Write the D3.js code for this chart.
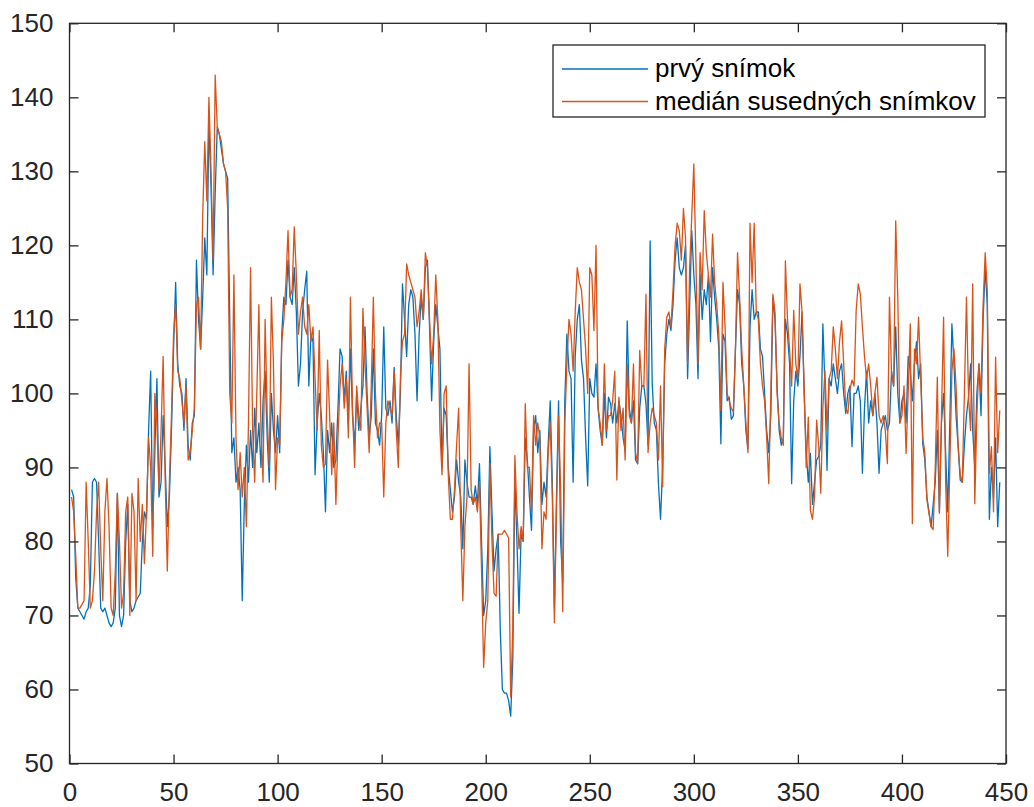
<!DOCTYPE html>
<html>
<head>
<meta charset="utf-8">
<script src="https://cdn.jsdelivr.net/npm/d3@7"></script>
<style>
body { margin:0; background:#ffffff; }
svg { display:block; }
.axis text { font-family:"Liberation Sans", Arial, Helvetica, sans-serif; font-size:26px; fill:#262626; }
.axis line { stroke:#262626; stroke-width:1.3; }
.legend text { font-family:"Liberation Sans", Arial, Helvetica, sans-serif; font-size:26px; fill:#000000; }
</style>
</head>
<body>
<svg id="chart"></svg>
<script>
// hodnoty odcitane z grafu, index snimku 1..447
var xTicks = [0,50,100,150,200,250,300,350,400,450];
var yTicks = [50,60,70,80,90,100,110,120,130,140,150];
var seriesNames = ["prvý snímok","medián susedných snímkov"];

var firstFrame = [
87,86,75,71,70.5,70,69.5,70.5,71,74,
88,88.5,88,80,71,70.5,71,70,69,68.5,
69,71,86.5,70,68.5,70,80,85,72,70.5,
71,72,72.5,73,80,84,83,95,103,82,
92,102,86,88,97,90,82,86,95,106,
115,104,101,100,95,102,93,91,96,97,
118,110,106,113,121,116,137,128,116,127,
136,135,133,131,130,129,110,92,94,88,
90,87,72,85,93,88,95,90,98,92,
96,90,99,103,94,88,100,95,92,97,
92,108,113,112,118,113,112,117,111,101,
104,111,114,116.5,101,108,107,89,96,100,
97,92,84,95,92,96,90,91,98,106,
105,99,103,96,106,97,93,100,95,98,
101,109,100,94,97,106,96,95,93,97,
109,98,97,99,96,103.5,97,93,100,114.8,
110,105,112,114,113,108,99,108,113,110,
117,118,109,99,107,112,109,106,90,98,
97,90,87,84,86,91,88,86,79,91,
88,86,86,85,87.5,85,90.5,80,70,72,
79,92.8,84,76,79,81,68,60,59.5,59.5,
58.5,56.4,64,88.5,80,70.3,81,80,94,91,
86,81.5,95,97,92,95,85,88,86,93,
99,88,71,86,99,80,74.5,99,108,103,
102,88,105,110,112,104.5,102,94,87.5,102,
100,99.5,104,98,95,93,100,94,99.5,98.6,
96,98.6,96,99,97,94,92.3,109.8,98,96,
99,91,90.5,98,101,101,98.6,93,120.6,101.3,
96,95,87.8,83,90,104,108,110,108.5,112,
118,121,117,116,117,120,102,112,122,116,
112,102,116,110,114,112,116,107,117,113,
110,106,93.2,108,107,99,99.5,96.5,97,106,
114,112,104,101,95,92.5,109,114,110,111,
111,106,105,100,95,92,97,113,110,101,
95,93,94,110,108,104,87.8,99,103,101,
105,111,100,92,88,91.9,85,88,91,91.5,
93,109.4,101,89.6,102,101,104,102,100,103,
104,100,97.3,100,101,92.8,100,100,101,99,
89.2,98,103,96,99,97,100,96,89.2,95,
96,97,95,96,103,101,109,100,96,99,
100,96,105,103,99,104,107,102,104,93.2,
91,86,84,82,85,88,95,84,96,100,
92,84,96,109.4,104,97,92.8,88.3,88,93,
97,99.5,104,95,90,100,104,97,110,117,
112,83,90,86,94,82,88
];

var medianFrames = [
86,84,78,71,71,71.5,72,88,80,71,
72,76,84,88,79,72,84,88.5,82,71,
70,76,86.5,80,71,73,84,86,70,86.5,
84,72,88.5,80,85,77,84,94,90,78,
100,96,87,95,105,88,76,88,97,108,
112,103,102,99,96,101,91,92,95,98,
112,113,106,124,134,126,140,130,118,143,
136,135,134,131,130,125,100,96,116,94,
87,92,86,90,82,96,117,95,88,100,
112,95,88,110,97,90,113,104,87,94,
93,107,110,115,122,113,114,122.5,116,108,
111,113,109,108,112,107,109,102,95,108.5,
93,90,90.5,104.5,97,89,96,85,94,101,
104,98,102,94,113,98,90,101,97,95,
111.5,104,98,92,101,113,100,94,96,96,
86,96,99,98,97,103,95,90,102,107,
108,117.5,116,115,114,113,109,111,114,110,
119,117,110,104,108,116,110,95,89,100,
101,89,83,83,87,93,98,82,72,82,
86,104,87,85,86,84,88,76,63,69,
72,90.5,80,73,72.6,81,81,81,81.5,81,
80.5,59,68,91.6,84,79,82,80,98.6,90,
90,84,97,93,96,94,79,84,83,92,
96,86,69,84,97,87,70.5,96,104,110,
108,103,111,117,115,114,110,106,100,117,
116,108.5,120,98,96,93,104,95,97,97,
99,103,88.3,99.5,95,98,91,104,97,96,
104,92,90.5,105.8,101,101,113.4,92,96,98,
97,96,91,101,87.4,106,110.3,111,109,114,
120,123,122,118,125,121,104,117,124,131,
118,104,119,114,124.7,119,116,113,121.5,115,
112,108,97.7,115,109,100,99,98,97.5,106,
119,113,106,101,96,92,123,115,123,111,
110,104,101,99,94,87.8,100,113.4,111,100,
96,94,93,117.9,110,106,101,111.2,104,102,
114.8,111,101,90,96.8,84.2,83,86,96.4,93,
86.5,98,103.1,95,102,103,109,106,102,107,
109.8,104,98,97.3,100.5,101.8,101,111.2,114.8,113.4,
109,105,102,104,101,97,100,102.2,97,96,
97,95,90.5,113,102.6,101,123.3,113,96,97,
101,91.9,100,109.4,82.4,106,104,110.3,102,94,
92,85.6,83.8,82,81.6,90,102.2,83.8,97,110.3,
88,78,90,103,106,101,93,89,88,100,
113,99.5,95,114.8,85.1,97,104,100,112,119,
114,89.2,92.8,84,104.9,92,97.7
];

var colors = ["#0072BD","#D95319"];

var drawAxes = function(svg,graph,margins,xScale,yScale)
{
    var tick = 9;
    var g = svg.append("g")
    .attr("transform","translate("+margins.left+","+margins.top+")");

    g.append("g").attr("class","axis")
    .attr("transform","translate(0,"+graph.height+")")
    .call(d3.axisBottom(xScale).tickValues(xTicks).tickSizeInner(-tick).tickSizeOuter(0).tickPadding(19))
    g.append("g").attr("class","axis")
    .call(d3.axisTop(xScale).tickValues(xTicks).tickSizeInner(-tick).tickSizeOuter(0).tickFormat(""))
    g.append("g").attr("class","axis")
    .call(d3.axisLeft(yScale).tickValues(yTicks).tickSizeInner(-tick).tickSizeOuter(0).tickPadding(16))
    g.append("g").attr("class","axis")
    .attr("transform","translate("+graph.width+",0)")
    .call(d3.axisRight(yScale).tickValues(yTicks).tickSizeInner(-tick).tickSizeOuter(0).tickFormat(""))

    g.selectAll(".axis .domain").remove();

    g.append("rect")
    .attr("width",graph.width)
    .attr("height",graph.height)
    .attr("fill","none")
    .attr("stroke","#262626")
    .attr("stroke-width",1.3)
}

var drawLines = function(svg,graph,margins,xScale,yScale)
{
    var target = svg.append("g")
    .attr("transform","translate("+margins.left+","+margins.top+")");
    var line = d3.line()
    .x(function(d,i){ return xScale(i+1); })
    .y(function(d){ return yScale(d); });

    [firstFrame,medianFrames].forEach(function(series,k)
    {
        target.append("path")
        .datum(series)
        .attr("d",line)
        .attr("fill","none")
        .attr("stroke",colors[k])
        .attr("stroke-width",1.3)
        .attr("stroke-linejoin","round")
    })
}

var drawLegend = function(svg)
{
    var legend = svg.append("g")
    .classed("legend",true)
    .attr("transform","translate(553,45)");

    legend.append("rect")
    .attr("width",432)
    .attr("height",72)
    .attr("fill","#ffffff")
    .attr("stroke","#262626")
    .attr("stroke-width",1.3)

    var entries = legend.selectAll("g")
    .data(seriesNames)
    .enter()
    .append("g")
    .attr("transform",function(d,i){ return "translate(0,"+(24+i*32.5)+")"; })

    entries.append("line")
    .attr("x1",9).attr("x2",95)
    .attr("stroke",function(d,i){ return colors[i]; })
    .attr("stroke-width",1.3)

    entries.append("text")
    .text(function(d){ return d; })
    .attr("x",102)
    .attr("dy","0.32em")
}

var initGraph = function()
{
    var screen = {width:1034,height:807};
    var margins = {left:69.5,right:28,top:23.3,bottom:43.5};
    var graph = {
        width:screen.width-margins.left-margins.right,
        height:screen.height-margins.top-margins.bottom
    };

    var svg = d3.select("#chart")
    .attr("width",screen.width)
    .attr("height",screen.height)

    var xScale = d3.scaleLinear().domain([0,450]).range([0,graph.width]);
    var yScale = d3.scaleLinear().domain([50,150]).range([graph.height,0]);

    drawLines(svg,graph,margins,xScale,yScale);
    drawAxes(svg,graph,margins,xScale,yScale);
    drawLegend(svg);
}

initGraph();
</script>
</body>
</html>
